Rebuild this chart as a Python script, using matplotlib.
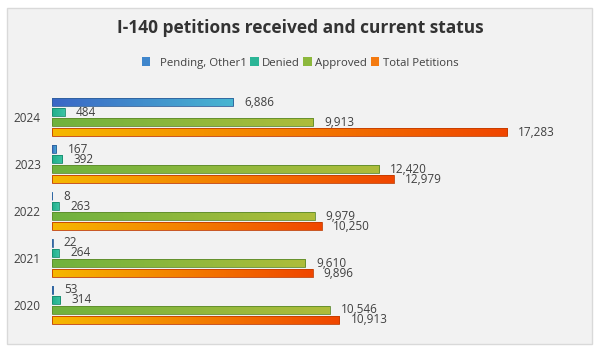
import matplotlib
matplotlib.use("Agg")
import matplotlib.pyplot as plt
import numpy as np
from matplotlib.patches import FancyBboxPatch, Rectangle
from matplotlib.colors import LinearSegmentedColormap

years = ["2020", "2021", "2022", "2023", "2024"]
series_names = ["Pending, Other1", "Denied", "Approved", "Total Petitions"]
pending = [53, 22, 8, 167, 6886]
denied = [314, 264, 263, 392, 484]
approved = [10546, 9610, 9979, 12420, 9913]
total = [10913, 9896, 10250, 12979, 17283]

series = [pending, denied, approved, total]
grad_colors = [("#3a66c6", "#48b6d2"), ("#1fae8a", "#3cc3a3"),
               ("#6fb23e", "#aebd3a"), ("#f6b800", "#f04600")]
edge_colors = ["#2f5f9a", "#178a6d", "#5d8a2c", "#c23c00"]
legend_colors = ["#3f86cc", "#2bb596", "#8cb83c", "#f47a10"]
offsets = [0.32, 0.107, -0.107, -0.32]
bar_h = 0.16

plt.rcParams['font.family'] = ['Open Sans', 'DejaVu Sans']
fig = plt.figure(figsize=(6, 3.5), dpi=100)
fig.patch.set_facecolor("white")

# card background
card = FancyBboxPatch((7/600, 1-344/350), 585/600, 336/350,
                      boxstyle="square,pad=0", transform=fig.transFigure,
                      facecolor="#f2f2f2", edgecolor="#d9d9d9", lw=1.0, zorder=-5)
fig.patches.append(card)

ax = fig.add_axes([52/600, 1-335/350, 526.6/600, 247/350])
ax.set_zorder(1)
ax.set_facecolor("none")

yb = np.arange(len(years))
for s, vals in enumerate(series):
    cmap = LinearSegmentedColormap.from_list("g%d" % s, grad_colors[s])
    ys = yb + offsets[s]
    bars = ax.barh(ys, vals, height=bar_h, color="none",
                   edgecolor=edge_colors[s], lw=0.6, zorder=3)
    for b, v, y in zip(bars, vals, ys):
        x0, y0 = b.get_x(), b.get_y()
        w, h = b.get_width(), b.get_height()
        grad = np.linspace(0, 1, 256).reshape(1, -1)
        im = ax.imshow(grad, cmap=cmap, aspect="auto",
                       extent=(x0, x0 + w, y0, y0 + h), zorder=2,
                       interpolation="bilinear")
        clip = Rectangle((x0, y0), w, h, transform=ax.transData)
        im.set_clip_path(clip)
        ax.annotate(f"{v:,}", (x0 + w, y), xytext=(8, 0),
                    textcoords="offset points", va="center", ha="left",
                    fontsize=8.5, color="#404040", zorder=4)

ax.set_yticks(yb)
ax.set_yticklabels(years, fontsize=8.5, color="#404040")
ax.set_xticks([])
ax.tick_params(axis="y", length=0, pad=8)
for sp in ax.spines.values():
    sp.set_visible(False)
ax.set_xlim(0, 20000)
ax.set_ylim(-0.64, 4.62)

fig.text(0.5, 1-28/350, "I-140 petitions received and current status",
         ha="center", va="center", fontsize=12.5, fontweight="bold",
         color="#333333")

handles = [Rectangle((0, 0), 1, 1, facecolor=c, edgecolor="none")
           for c in legend_colors]
labels = ["  Pending, Other1", "Denied", "Approved", "Total Petitions"]
fig.legend(handles, labels, loc="center", bbox_to_anchor=(0.5, 1-63/350),
           ncol=4, frameon=False, fontsize=8.2, handlelength=0.75,
           handleheight=0.75, handletextpad=0.3, columnspacing=0.3,
           labelcolor="#404040")

fig.savefig("out.png", dpi=100, facecolor="white")
